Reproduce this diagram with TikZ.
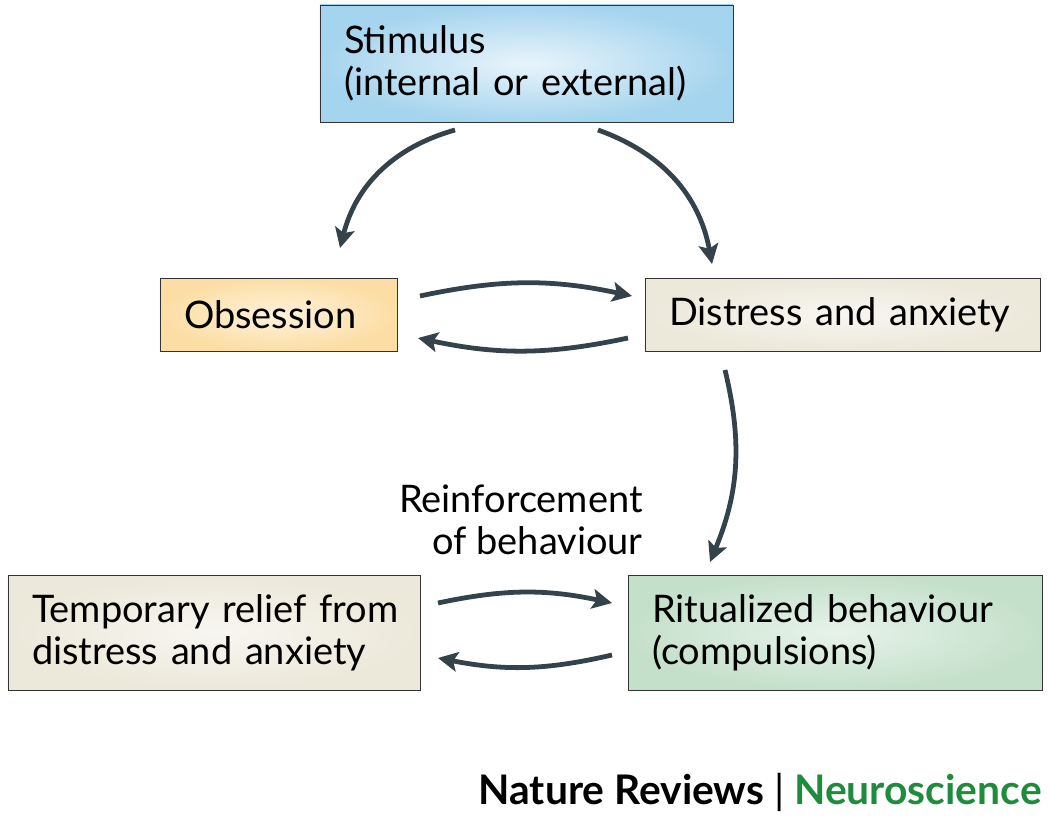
\documentclass[tikz,border=0pt]{standalone}
\usepackage{fontspec}
\setmainfont{Lato}
\usetikzlibrary{positioning, arrows.meta, shadings}
\definecolor{stimblue}{RGB}{165,212,238}
\definecolor{obsorange}{RGB}{252,222,165}
\definecolor{beigebox}{RGB}{236,232,218}
\definecolor{ritgreen}{RGB}{196,224,202}
\definecolor{arrowgrey}{RGB}{52,66,76}
\definecolor{naturegreen}{RGB}{30,140,60}
\tikzset{
  box/.style={draw=black!80, line width=0.6pt, inner xsep=0.6cm, inner ysep=0pt, align=left, font=\fontsize{27}{30}\selectfont},
  flow/.style={draw=arrowgrey, line width=3.4pt, -{Stealth[length=14pt,width=14pt,inset=3pt]}}
}
\begin{document}
\begin{tikzpicture}[x=0.025cm, y=-0.025cm]
		\useasboundingbox (0,0) rectangle (1050,820);
		% boxes
		\node[box, text width=365*0.025cm, minimum height=117*0.025cm, inner color=white!75!stimblue, outer color=stimblue] (stim) at (526.5,63.5) {\mbox{Stimulus}\\\mbox{(internal or external)}};
		\node[box, text width=189*0.025cm, minimum height=73*0.025cm, inner color=white!60!obsorange, outer color=obsorange] (obs) at (278.5,314.5) {\mbox{Obsession}};
		\node[box, text width=347*0.025cm, minimum height=73*0.025cm, inner color=white!60!beigebox, outer color=beigebox] (dist) at (842.5,314.5) {\mbox{Distress and anxiety}};
		\node[box, text width=364*0.025cm, minimum height=115*0.025cm, inner color=white!60!beigebox, outer color=beigebox] (relief) at (214,632.5) {\mbox{Temporary relief from}\\\mbox{distress and anxiety}};
		\node[box, text width=366*0.025cm, minimum height=115*0.025cm, inner color=white!60!ritgreen, outer color=ritgreen] (rit) at (835,632.5) {\mbox{Ritualized behaviour}\\\mbox{(compulsions)}};
		
		% arrow ends
		\coordinate (s1) at (455,130); \coordinate (o1) at (340,248);
		\coordinate (s2) at (598,130); \coordinate (d1) at (712,264);
		\coordinate (o2) at (420,296); \coordinate (d2) at (632,296);
		\coordinate (d3) at (628,338); \coordinate (o3) at (418,338);
		\coordinate (d4) at (725,370); \coordinate (r1) at (710,562);
		\coordinate (t1) at (438,603); \coordinate (r2) at (612,603);
		\coordinate (r3) at (612,655); \coordinate (t2) at (438,658);
		
		\draw[flow] (s1) to[bend right=30] (o1);
		\draw[flow] (s2) to[bend left=30] (d1);
		\draw[flow] (o2) to[bend left=12] (d2);
		\draw[flow] (d3) to[bend left=12] (o3);
		\draw[flow] (d4) to[bend left=18] (r1);
		\draw[flow] (t1) to[bend left=12] (r2);
		\draw[flow] (r3) to[bend left=12] (t2);
		
		\node[align=right, anchor=east, inner sep=0pt, font=\fontsize{27}{30}\selectfont] (reinf) at (643,520) {Reinforcement\\of behaviour};
		\node[anchor=east, inner sep=0pt, font=\bfseries\fontsize{29}{34}\selectfont] (logo) at (1042,792) {Nature Reviews {\mdseries|} \textcolor{naturegreen}{Neuroscience}};
		\end{tikzpicture}
\end{document}
